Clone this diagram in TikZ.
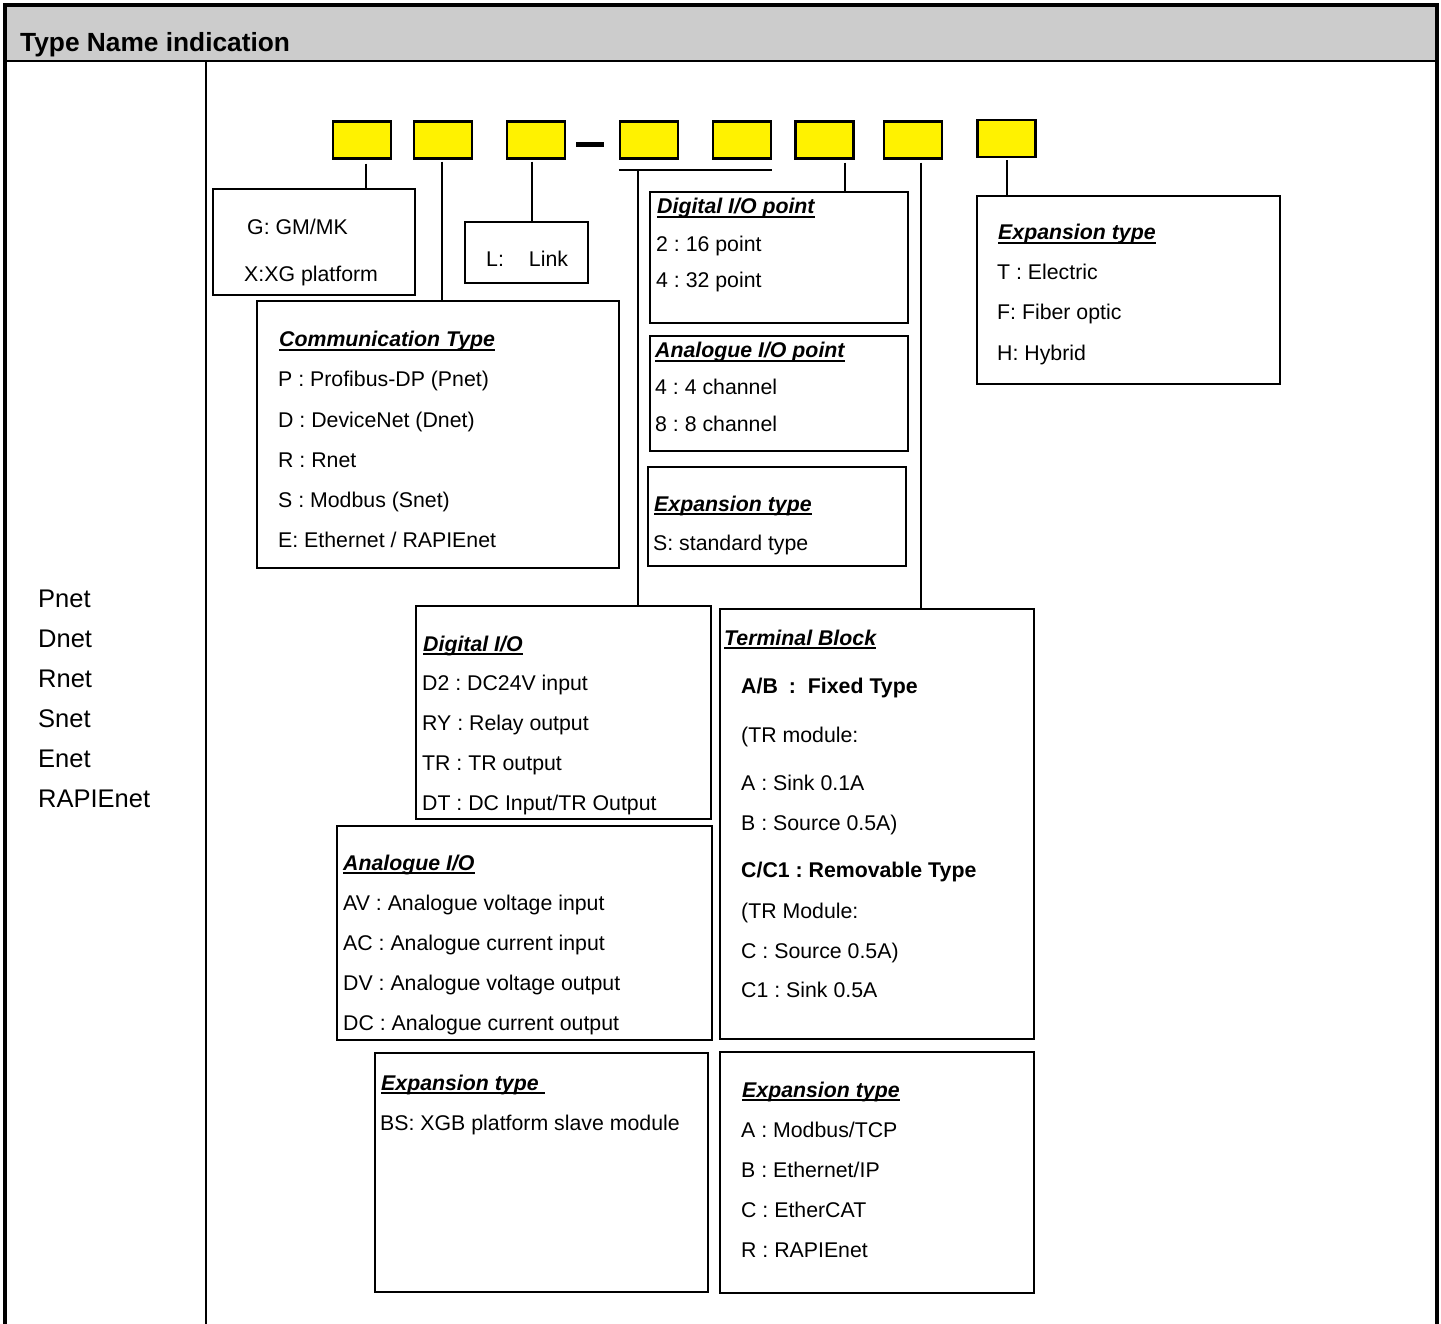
\documentclass[tikz,border=0pt]{standalone}
\usepackage{fontspec}
\setmainfont{Liberation Sans}
\frenchspacing
\newsavebox{\headbox}
\newcommand{\headline}[1]{{\bfseries\itshape\sbox{\headbox}{#1}\rlap{\rule[-4pt]{\wd\headbox}{2.2pt}}\usebox{\headbox}}}
\tikzset{
  slot/.style={draw, fill=yellow, line width=2.2pt, minimum width=58pt, minimum height=37pt, inner sep=0pt},
  infobox/.style={draw, line width=1.8pt, inner sep=0pt},
  wire/.style={draw, line width=2pt},
  txt/.style={anchor=base west, inner sep=0pt, font=\fontsize{21.3}{26}\selectfont},
  lbl/.style={anchor=base west, inner sep=0pt, font=\fontsize{25.5}{30}\selectfont},
}
\begin{document}
\begin{tikzpicture}[x=1pt,y=-1pt]
\useasboundingbox (0,0) rectangle (1441,1324);
% frame and title bar
\fill[black!20] (5,5) rectangle (1437,61);
\draw[line width=4pt] (5,1324) -- (5,5) -- (1437,5) -- (1437,1324);
\draw[line width=2.5pt] (5,61) -- (1437,61);
\draw[line width=2pt] (206,61) -- (206,1324);
\node[anchor=base west, inner sep=0pt, font=\fontsize{26.3}{30}\selectfont\bfseries] (title) at (20,52) {Type Name indication};
% left column
\node[lbl] (pnet) at (38,607) {Pnet};
\node[lbl] (dnet) at (38,647) {Dnet};
\node[lbl] (rnet) at (38,687) {Rnet};
\node[lbl] (snet) at (38,727) {Snet};
\node[lbl] (enet) at (38,767) {Enet};
\node[lbl] (rapi) at (38,807) {RAPIEnet};
% type name slots
\node[slot] (s1) at (362,140) {};
\node[slot] (s2) at (443,140) {};
\node[slot] (s3) at (536,140) {};
\node[slot] (s4) at (649,140) {};
\node[slot] (s5) at (742,140) {};
\node[slot] (s6) at (824.5,140) {};
\node[slot] (s7) at (913,140) {};
\node[slot] (s8) at (1006.5,138.5) {};
\draw[line width=5pt] ([xshift=10pt,yshift=-4.5pt]s3.east) -- ([xshift=-15pt,yshift=-4.5pt]s4.west);
% boxes
\node[infobox, minimum width=202pt, minimum height=106pt] (gm) at (314,242) {};
\node[infobox, minimum width=123pt, minimum height=61pt] (link) at (526.5,252.5) {};
\node[infobox, minimum width=362pt, minimum height=267pt] (comm) at (438,434.5) {};
\node[infobox, minimum width=258pt, minimum height=131pt] (diop) at (779,257.5) {};
\node[infobox, minimum width=258pt, minimum height=115pt] (aiop) at (779,393.5) {};
\node[infobox, minimum width=258pt, minimum height=99pt] (exps) at (777,516.5) {};
\node[infobox, minimum width=303pt, minimum height=188pt] (expt) at (1128.5,290) {};
\node[infobox, minimum width=295pt, minimum height=213pt] (dio) at (563.5,712.5) {};
\node[infobox, minimum width=375pt, minimum height=214pt] (aio) at (524.5,933) {};
\node[infobox, minimum width=314pt, minimum height=430pt] (term) at (877,824) {};
\node[infobox, minimum width=333pt, minimum height=239pt] (expbs) at (541.5,1172.5) {};
\node[infobox, minimum width=314pt, minimum height=241pt] (expe) at (877,1172.5) {};
% connectors
\path[wire] ([xshift=4pt,yshift=-4pt]s1.south) -- ([xshift=4pt]s1.south |- gm.north);
\path[wire] ([xshift=-1pt,yshift=-2pt]s2.south) -- ([xshift=-1pt]s2.south |- comm.north);
\path[wire] ([xshift=-4pt,yshift=-2pt]s3.south) -- ([xshift=-4pt]s3.south |- link.north);
\path[wire] ([yshift=-10pt]s4.south west) -- ([yshift=-10pt]s5.south east);
\path[wire] ([xshift=19pt,yshift=-10pt]s4.south west) -- ([xshift=19pt]s4.south west |- dio.north);
\path[wire] ([xshift=20pt,yshift=-3pt]s6.south) -- ([xshift=20pt]s6.south |- diop.north);
\path[wire] ([xshift=8pt,yshift=-3pt]s7.south) -- ([xshift=8pt]s7.south |- term.north);
\path[wire] ([xshift=0.5pt,yshift=-2pt]s8.south) -- ([xshift=0.5pt]s8.south |- expt.north);
% texts
\node[txt] (gm1) at (247,235) {G: GM/MK};
\node[txt] (gm2) at (244,282) {X:XG platform};
\node[txt] (link1) at (486,267) {L:\hspace{25pt}Link};
\node[txt] (comm0) at (279,347) {\headline{Communication Type}};
\node[txt] (comm1) at (278,387) {P : Profibus-DP (Pnet)};
\node[txt] (comm2) at (278,427) {D : DeviceNet (Dnet)};
\node[txt] (comm3) at (278,467) {R : Rnet};
\node[txt] (comm4) at (278,507) {S : Modbus (Snet)};
\node[txt] (comm5) at (278,547) {E: Ethernet / RAPIEnet};
\node[txt] (diop0) at (657,214) {\headline{Digital I/O point}};
\node[txt] (diop1) at (656,252) {2 : 16 point};
\node[txt] (diop2) at (656,288) {4 : 32 point};
\node[txt] (aiop0) at (655,358) {\headline{Analogue I/O point}};
\node[txt] (aiop1) at (655,394) {4 : 4 channel};
\node[txt] (aiop2) at (655,431) {8 : 8 channel};
\node[txt] (exps0) at (654,511) {\headline{Expansion type}};
\node[txt] (exps1) at (653,550) {S: standard type};
\node[txt] (expt0) at (998,240) {\headline{Expansion type}};
\node[txt] (expt1) at (997,280) {T : Electric};
\node[txt] (expt2) at (997,320) {F: Fiber optic};
\node[txt] (expt3) at (997,360) {H: Hybrid};
\node[txt] (dio0) at (423,651) {\headline{Digital I/O}};
\node[txt] (dio1) at (422,690) {D2 : DC24V input};
\node[txt] (dio2) at (422,730) {RY : Relay output};
\node[txt] (dio3) at (422,770) {TR : TR output};
\node[txt] (dio4) at (422,810) {DT : DC Input/TR Output};
\node[txt] (aio0) at (343,870) {\headline{Analogue I/O}};
\node[txt] (aio1) at (343,910) {AV : Analogue voltage input};
\node[txt] (aio2) at (343,950) {AC : Analogue current input};
\node[txt] (aio3) at (343,990) {DV : Analogue voltage output};
\node[txt] (aio4) at (343,1030) {DC : Analogue current output};
\node[txt] (term0) at (724,645) {\headline{Terminal Block}};
\node[txt] (term1) at (741,693) {\bfseries A/B\hspace{11pt}:\hspace{12pt}Fixed Type};
\node[txt] (term2) at (741,742) {(TR module:};
\node[txt] (term3) at (741,790) {A : Sink 0.1A};
\node[txt] (term4) at (741,830) {B : Source 0.5A)};
\node[txt] (term5) at (741,877) {\bfseries C/C1 : Removable Type};
\node[txt] (term6) at (741,918) {(TR Module:};
\node[txt] (term7) at (741,958) {C : Source 0.5A)};
\node[txt] (term8) at (741,997) {C1 : Sink 0.5A};
\node[txt] (expbs0) at (381,1090) {\headline{Expansion type\ }};
\node[txt] (expbs1) at (380,1130) {BS: XGB platform slave module};
\node[txt] (expe0) at (742,1097) {\headline{Expansion type}};
\node[txt] (expe1) at (741,1137) {A : Modbus/TCP};
\node[txt] (expe2) at (741,1177) {B : Ethernet/IP};
\node[txt] (expe3) at (741,1217) {C : EtherCAT};
\node[txt] (expe4) at (741,1257) {R : RAPIEnet};
\end{tikzpicture}
\end{document}
